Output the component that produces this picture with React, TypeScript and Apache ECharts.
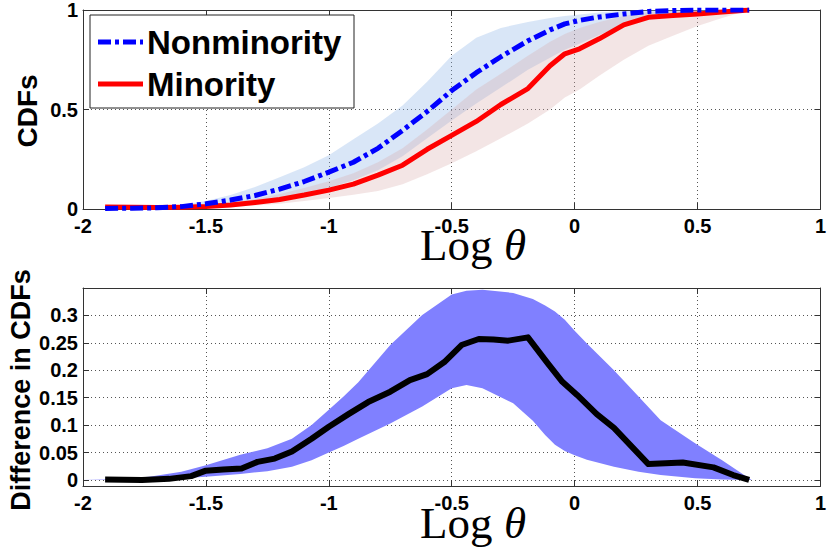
import React, { useEffect, useRef } from 'react';
import * as echarts from 'echarts';

// ---------- Top panel: CDFs ----------
const xTop = [-1.91, -1.8, -1.7, -1.6, -1.5, -1.4, -1.3, -1.2, -1.1, -1.0, -0.9, -0.8, -0.7, -0.6, -0.5, -0.4, -0.3, -0.19, -0.1, -0.04, 0.02, 0.1, 0.2, 0.3, 0.4, 0.5, 0.6, 0.71];
const nonMinority = [0.003, 0.004, 0.006, 0.012, 0.026, 0.045, 0.068, 0.1, 0.138, 0.185, 0.235, 0.305, 0.395, 0.49, 0.595, 0.685, 0.765, 0.845, 0.9, 0.93, 0.948, 0.965, 0.98, 0.993, 0.997, 1.0, 1.0, 1.0];
const minority = [0.01, 0.009, 0.008, 0.009, 0.012, 0.02, 0.033, 0.048, 0.07, 0.095, 0.125, 0.17, 0.22, 0.3, 0.37, 0.44, 0.525, 0.605, 0.72, 0.78, 0.805, 0.855, 0.925, 0.963, 0.972, 0.98, 0.99, 1.0];
const nonMinHigh = [0.005, 0.007, 0.011, 0.02, 0.04, 0.07, 0.11, 0.16, 0.21, 0.27, 0.35, 0.43, 0.52, 0.64, 0.77, 0.86, 0.91, 0.94, 0.96, 0.97, 0.978, 0.987, 0.995, 1.0, 1.0, 1.0, 1.0, 1.0];
const nonMinLow = [0.001, 0.002, 0.003, 0.006, 0.014, 0.024, 0.038, 0.057, 0.08, 0.105, 0.145, 0.195, 0.265, 0.355, 0.445, 0.53, 0.61, 0.7, 0.76, 0.8, 0.83, 0.875, 0.925, 0.965, 0.985, 0.995, 1.0, 1.0];
const minHigh = [0.013, 0.012, 0.012, 0.014, 0.02, 0.032, 0.05, 0.075, 0.105, 0.14, 0.18, 0.235, 0.305, 0.4, 0.5, 0.6, 0.68, 0.77, 0.84, 0.88, 0.91, 0.94, 0.97, 0.99, 0.995, 1.0, 1.0, 1.0];
const minLow = [0.005, 0.005, 0.004, 0.005, 0.006, 0.01, 0.018, 0.027, 0.04, 0.055, 0.072, 0.09, 0.125, 0.175, 0.23, 0.29, 0.355, 0.43, 0.5, 0.56, 0.6, 0.67, 0.75, 0.82, 0.87, 0.92, 0.96, 1.0];

// ---------- Bottom panel: difference in CDFs ----------
const xDiff = [-1.91, -1.76, -1.65, -1.56, -1.5, -1.43, -1.355, -1.29, -1.22, -1.15, -1.07, -1.0, -0.92, -0.84, -0.75, -0.67, -0.6, -0.53, -0.46, -0.39, -0.33, -0.27, -0.19, -0.11, -0.05, 0.01, 0.09, 0.16, 0.3, 0.44, 0.565, 0.645, 0.71];
const diffCdf = [0.001, 0.0, 0.002, 0.007, 0.017, 0.019, 0.021, 0.033, 0.039, 0.052, 0.075, 0.097, 0.12, 0.142, 0.161, 0.182, 0.193, 0.215, 0.246, 0.257, 0.256, 0.254, 0.26, 0.213, 0.179, 0.155, 0.12, 0.095, 0.029, 0.032, 0.023, 0.009, 0.0];
const xBand = [-2.0, -1.91, -1.73, -1.6, -1.5, -1.36, -1.25, -1.15, -1.07, -1.0, -0.94, -0.88, -0.75, -0.62, -0.5, -0.44, -0.375, -0.25, -0.17, -0.12, -0.08, -0.04, 0.0, 0.05, 0.16, 0.26, 0.35, 0.49, 0.6, 0.72];
const diffHigh = [0, 0.001, 0.006, 0.015, 0.027, 0.046, 0.058, 0.075, 0.1, 0.128, 0.152, 0.178, 0.246, 0.301, 0.338, 0.345, 0.347, 0.341, 0.33, 0.318, 0.307, 0.292, 0.272, 0.249, 0.2, 0.152, 0.109, 0.067, 0.036, 0];
const diffLow = [0, 0, 0, 0.003, 0.006, 0.011, 0.016, 0.024, 0.036, 0.05, 0.062, 0.075, 0.103, 0.134, 0.167, 0.173, 0.167, 0.14, 0.108, 0.082, 0.064, 0.053, 0.045, 0.037, 0.024, 0.015, 0.009, 0.003, 0.001, 0];

const legendNames = ['Nonminority', 'Minority'];
const xTitle = ['Log', 'θ'];
const yTitles = ['CDFs', 'Difference in CDFs'];

const SANS = '"Liberation Sans", Arial, Helvetica, sans-serif';
const SERIF = '"Liberation Serif", "Times New Roman", serif';
const AXIS_COLOR = '#333';

const pairs = (xs: number[], ys: number[]) => xs.map((x, i) => [x, ys[i]]);

function band(xs: number[], lo: number[], hi: number[], fill: string, idx: number) {
  return {
    type: 'custom',
    xAxisIndex: idx,
    yAxisIndex: idx,
    silent: true,
    clip: true,
    data: [[xs[0], lo[0]]],
    renderItem: (_params: any, api: any) => {
      const pts: number[][] = [];
      for (let i = 0; i < xs.length; i++) pts.push(api.coord([xs[i], hi[i]]));
      for (let i = xs.length - 1; i >= 0; i--) pts.push(api.coord([xs[i], lo[i]]));
      return { type: 'polygon', shape: { points: pts, smooth: 0 }, style: { fill } };
    },
  };
}

const labelStyle = { color: '#000', fontSize: 20, fontWeight: 'bold', fontFamily: SANS };
const gridLine = { show: true, lineStyle: { color: '#555', type: [1, 3], width: 1 } };
const axLine = { show: true, onZero: false, lineStyle: { color: AXIS_COLOR, width: 1 } };
const axTick = { show: true, inside: true, length: 6, lineStyle: { color: AXIS_COLOR } };

function xAxes(gridIndex: number, position: string, main: boolean) {
  return {
    type: 'value', gridIndex, position, min: -2, max: 1, interval: 0.5,
    axisLine: axLine, axisTick: axTick,
    axisLabel: main ? { ...labelStyle, margin: 7 } : { show: false },
    splitLine: main ? gridLine : { show: false },
  };
}

const diffLabel = (v: number) => (v < -1e-6 || v > 0.3 + 1e-6 ? '' : String(Math.round(v * 100) / 100));

function yAxes(gridIndex: number, position: string, main: boolean) {
  const base: any = gridIndex === 0
    ? { min: 0, max: 1, interval: 0.5 }
    : { min: -0.011, max: 0.35, splitNumber: 7 };
  return {
    type: 'value', gridIndex, position, ...base,
    axisLine: axLine, axisTick: axTick,
    axisLabel: main
      ? { ...labelStyle, margin: 5, formatter: gridIndex === 0 ? undefined : diffLabel, showMinLabel: gridIndex === 0, showMaxLabel: gridIndex === 0 }
      : { show: false },
    splitLine: main ? gridLine : { show: false },
  };
}

const option: any = {
  animation: false,
  backgroundColor: '#fff',
  grid: [
    { left: 83, top: 9, width: 745, height: 200 },
    { left: 83, top: 288, width: 745, height: 198 },
  ],
  xAxis: [xAxes(0, 'bottom', true), xAxes(1, 'bottom', true), xAxes(0, 'top', false), xAxes(1, 'top', false)],
  yAxis: [yAxes(0, 'left', true), yAxes(1, 'left', true), yAxes(0, 'right', false), yAxes(1, 'right', false)],
  series: [
    band(xTop, nonMinLow, nonMinHigh, 'rgba(140,180,230,0.33)', 0),
    band(xTop, minLow, minHigh, 'rgba(215,170,170,0.3)', 0),
    {
      type: 'line', name: legendNames[1], xAxisIndex: 0, yAxisIndex: 0, showSymbol: false, silent: true,
      data: pairs(xTop, minority),
      lineStyle: { color: '#ff0000', width: 5, join: 'round' },
    },
    {
      type: 'line', name: legendNames[0], xAxisIndex: 0, yAxisIndex: 0, showSymbol: false, silent: true,
      data: pairs(xTop, nonMinority),
      lineStyle: { color: '#0000ff', width: 5, type: [13, 4, 4, 4], cap: 'butt' },
    },
    band(xBand, diffLow, diffHigh, 'rgb(128,128,255)', 1),
    {
      type: 'line', xAxisIndex: 1, yAxisIndex: 1, showSymbol: false, silent: true,
      data: pairs(xDiff, diffCdf),
      lineStyle: { color: '#000', width: 6, join: 'round' },
    },
  ],
  graphic: [
    { type: 'rect', z: 100, shape: { x: 90, y: 15, width: 264, height: 93 }, style: { fill: '#fff', stroke: '#222', lineWidth: 1 } },
    { type: 'line', z: 101, shape: { x1: 98, y1: 42, x2: 143, y2: 42 }, style: { stroke: '#0000ff', lineWidth: 5, lineDash: [13, 4, 4, 4] } },
    { type: 'line', z: 101, shape: { x1: 98, y1: 84, x2: 143, y2: 84 }, style: { stroke: '#ff0000', lineWidth: 5 } },
    { type: 'text', z: 101, x: 147, y: 42, style: { text: legendNames[0], fill: '#000', fontSize: 33, fontWeight: 'bold', fontFamily: SANS, align: 'left', verticalAlign: 'middle' } },
    { type: 'text', z: 101, x: 147, y: 84, style: { text: legendNames[1], fill: '#000', fontSize: 33, fontWeight: 'bold', fontFamily: SANS, align: 'left', verticalAlign: 'middle' } },
    { type: 'text', z: 101, x: 27, y: 111, rotation: Math.PI / 2, style: { text: yTitles[0], fill: '#000', fontSize: 28, fontWeight: 'bold', fontFamily: SANS, align: 'center', verticalAlign: 'middle' } },
    { type: 'text', z: 101, x: 21, y: 390, rotation: Math.PI / 2, style: { text: yTitles[1], fill: '#000', fontSize: 27, fontWeight: 'bold', fontFamily: SANS, align: 'center', verticalAlign: 'middle' } },
    { type: 'text', z: 101, x: 420, y: 245, style: { text: xTitle[0], fill: '#000', fontSize: 45, fontFamily: SERIF, align: 'left', verticalAlign: 'middle' } },
    { type: 'text', z: 101, x: 504, y: 245, style: { text: xTitle[1], fill: '#000', fontSize: 45, fontStyle: 'italic', fontFamily: SERIF, align: 'left', verticalAlign: 'middle' } },
    { type: 'text', z: 101, x: 420, y: 523, style: { text: xTitle[0], fill: '#000', fontSize: 45, fontFamily: SERIF, align: 'left', verticalAlign: 'middle' } },
    { type: 'text', z: 101, x: 504, y: 523, style: { text: xTitle[1], fill: '#000', fontSize: 45, fontStyle: 'italic', fontFamily: SERIF, align: 'left', verticalAlign: 'middle' } },
  ],
};

export default function App() {
  const ref = useRef<HTMLDivElement>(null);
  useEffect(() => {
    if (!ref.current) return;
    const chart = echarts.init(ref.current, null, { renderer: 'svg' });
    chart.setOption(option);
    return () => chart.dispose();
  }, []);
  return (
    <div
      ref={ref}
      style={{ position: 'absolute', left: 0, top: 0, width: 829, height: 550, background: '#fff' }}
    />
  );
}
